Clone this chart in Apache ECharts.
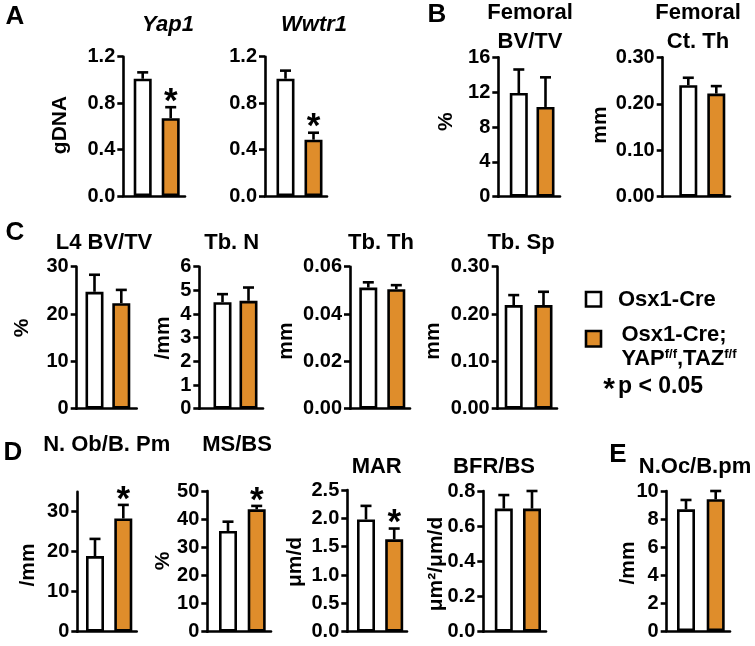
<!DOCTYPE html>
<html>
<head>
<meta charset="utf-8">
<script src="https://cdn.jsdelivr.net/npm/echarts@6/dist/echarts.min.js"></script>
<style>html,body{margin:0;padding:0;background:#fff;}#c{width:755px;height:646px;}</style>
</head>
<body>
<div id="c"></div>
<script>
// ---------------- DATA ----------------
const groupNames = ['Osx1-Cre', 'Osx1-Cre; YAPf/f,TAZf/f'];
const groupColors = ['#ffffff', '#DF8D2B'];

const panelTitles = ['Yap1', 'Wwtr1', 'Femoral\nBV/TV', 'Femoral\nCt. Th',
  'L4 BV/TV', 'Tb. N', 'Tb. Th', 'Tb. Sp',
  'N. Ob/B. Pm', 'MS/BS', 'MAR', 'BFR/BS', 'N.Oc/B.pm'];
const unitLabels = ['gDNA', '', '%', 'mm', '%', '/mm', 'mm', 'mm', '/mm', '%', 'μm/d', 'μm²/μm/d', '/mm'];

// means [Osx1-Cre, Osx1-Cre;YAP/TAZ] and SEM
const yap1Mean = [1.01, 0.67],    yap1Sem = [0.055, 0.095];
const wwtr1Mean = [1.01, 0.485],  wwtr1Sem = [0.07, 0.06];
const femBvtvMean = [11.9, 10.3], femBvtvSem = [2.7, 3.4];
const femCtThMean = [0.240, 0.222], femCtThSem = [0.016, 0.016];
const l4BvtvMean = [24.7, 22.3], l4BvtvSem = [3.6, 2.8];
const tbNMean = [4.50, 4.56],    tbNSem = [0.34, 0.56];
const tbThMean = [0.0512, 0.0505], tbThSem = [0.0022, 0.0017];
const tbSpMean = [0.219, 0.219], tbSpSem = [0.021, 0.028];
const nObMean = [18.9, 28.3],    nObSem = [4.3, 3.4];
const msbsMean = [35.8, 43.5],   msbsSem = [3.3, 1.2];
const marMean = [1.98, 1.63],    marSem = [0.24, 0.19];
const bfrMean = [0.70, 0.70],    bfrSem = [0.077, 0.10];
const nOcMean = [8.69, 9.41],    nOcSem = [0.67, 0.59];

const means = [yap1Mean, wwtr1Mean, femBvtvMean, femCtThMean, l4BvtvMean, tbNMean, tbThMean, tbSpMean, nObMean, msbsMean, marMean, bfrMean, nOcMean];
const sems  = [yap1Sem, wwtr1Sem, femBvtvSem, femCtThSem, l4BvtvSem, tbNSem, tbThSem, tbSpSem, nObSem, msbsSem, marSem, bfrSem, nOcSem];
// significance (p < 0.05) per group
const sigFlags = [[0,1],[0,1],[0,0],[0,0],[0,0],[0,0],[0,0],[0,0],[0,1],[0,1],[0,1],[0,0],[0,0]];

// y-axis: [max, interval, decimals]
const yAxisMax = [1.2, 1.2, 16, 0.30, 30, 6, 0.06, 0.30, 35, 50, 2.5, 0.8, 10];
const yAxisStep = [0.4, 0.4, 4, 0.10, 10, 1, 0.02, 0.10, 10, 10, 0.5, 0.2, 2];
const yAxisDecimals = [1, 1, 0, 2, 0, 0, 2, 2, 0, 0, 1, 1, 0];
const nObTicks = [0, 10, 20, 30];

// ---------------- LAYOUT (pixels) ----------------
// [axisX, centre of bar 1, centre of bar 2, x-axis end, top of y-axis, bottom]
const layout = [
  [123.3, 142.7, 170.7, 185, 56.7, 196],
  [265, 285.5, 313.5, 327, 56.7, 196],
  [498.3, 518.8, 545.5, 560, 57.3, 196.7],
  [662.7, 688.3, 716.3, 730, 57.3, 196.7],
  [76.7, 94.5, 121.3, 136.7, 266.7, 408.7],
  [199.3, 222.5, 248.5, 263, 266.7, 408.7],
  [350, 368.3, 396.3, 410, 266.7, 408.7],
  [497.7, 513.7, 543.5, 557, 266.7, 408.7],
  [77.3, 95, 123.3, 136.7, 491.7, 631.7],
  [207.3, 228, 256.7, 271, 491, 631.7],
  [347.3, 366, 394.2, 407, 490, 631.7],
  [483.3, 503.8, 532, 546, 491, 631.7],
  [666.7, 686, 715.7, 730, 491, 631]
];
const titlePos = [[168,25],[314,25],[530,27.5],[698,27.5],[104,243.3],[231.7,243.3],[381,243.3],[521,243.3],[106.7,445],[237,445],[376.7,466.7],[494,466.7],[695,466.7]];
const unitPos = [[60,125],null,[446.7,121.7],[600,125],[22,328],[163,338],[286.7,341],[433,341],[28.3,565],[163.3,561],[295,562],[436.7,564],[628.3,563]];
const letters = [['A',15,16.7],['B',437,15],['C',15,232.5],['D',13,453],['E',618,455]];

const FONT = "'Liberation Sans', Arial, Helvetica, sans-serif";
const chart = echarts.init(document.getElementById('c'), null, {renderer: 'canvas'});

const grid = [], xAxis = [], yAxis = [], series = [], graphic = [];
const LW = 2.6;

layout.forEach((L, i) => {
  const [ax, c1, c2, ae, top, bot] = L;
  const unit = c2 - c1;
  const xmin = 1 - (c1 - ax) / unit;
  const xmax = 2 + (ae - c2) / unit;
  grid.push({left: ax, top: top, width: ae - ax, height: bot - top, containLabel: false, outerBoundsMode: 'none'});
  xAxis.push({
    type: 'value', gridIndex: i, min: xmin, max: xmax,
    axisLine: {show: true, onZero: false, lineStyle: {color: '#000', width: LW}},
    axisTick: {show: false}, axisLabel: {show: false}, splitLine: {show: false}
  });
  const dec = yAxisDecimals[i];
  const y = {
    type: 'value', gridIndex: i, min: 0, max: yAxisMax[i], interval: yAxisStep[i],
    axisLine: {show: true, lineStyle: {color: '#000', width: LW}},
    axisTick: {show: true, length: 6, lineStyle: {color: '#000', width: LW}},
    axisLabel: {show: true, margin: 8, color: '#000', fontWeight: 'bold', fontSize: 20, fontFamily: FONT,
      formatter: v => Number(v).toFixed(dec)},
    splitLine: {show: false}
  };
  if (i === 8) {
    y.axisTick.customValues = nObTicks;
    y.axisLabel.customValues = nObTicks;
  }
  yAxis.push(y);

  series.push({
    type: 'bar', name: panelTitles[i].replace('\n', ' '), xAxisIndex: i, yAxisIndex: i, barWidth: 18,
    data: means[i].map((m, g) => ({value: [g + 1, m], name: groupNames[g],
      itemStyle: {color: groupColors[g], borderColor: '#000', borderWidth: LW}})),
    silent: true, animation: false
  });
  series.push({
    type: 'custom', xAxisIndex: i, yAxisIndex: i, animation: false, silent: true, z: 5,
    data: means[i].map((m, g) => [g + 1, m, sems[i][g]]),
    renderItem: (params, api) => {
      const x = api.value(0), m = api.value(1), s = api.value(2);
      const b = api.coord([x, m]);
      const t = api.coord([x, m + s]);
      return {type: 'group', children: [
        {type: 'line', shape: {x1: b[0], y1: b[1], x2: t[0], y2: t[1]}, style: {stroke: '#000', lineWidth: LW}},
        {type: 'line', shape: {x1: t[0] - 5.5, y1: t[1], x2: t[0] + 5.5, y2: t[1]}, style: {stroke: '#000', lineWidth: LW}}
      ]};
    }
  });
  const starData = [];
  sigFlags[i].forEach((f, g) => { if (f) starData.push([g + 1, means[i][g] + sems[i][g]]); });
  if (starData.length) {
    series.push({
      type: 'custom', xAxisIndex: i, yAxisIndex: i, animation: false, silent: true, z: 6,
      data: starData,
      renderItem: (params, api) => {
        const p = api.coord([api.value(0), api.value(1)]);
        return {type: 'text', x: p[0], y: p[1] - 5,
          style: {text: '*', font: 'bold 35px ' + FONT, fill: '#000', align: 'center', verticalAlign: 'middle', textAlign: 'center', textVerticalAlign: 'middle'}};
      }
    });
  }

  // titles
  const tp = titlePos[i];
  const italic = (i < 2) ? 'italic ' : '';
  graphic.push({type: 'text', x: tp[0], y: tp[1], silent: true,
    style: {text: panelTitles[i], font: italic + 'bold 22px ' + FONT, fill: '#000', lineHeight: 28.7,
      align: 'center', verticalAlign: 'middle', textAlign: 'center', textVerticalAlign: 'middle'}});
  // unit labels
  if (unitPos[i]) {
    graphic.push({type: 'text', x: unitPos[i][0], y: unitPos[i][1], rotation: Math.PI / 2, silent: true,
      style: {text: unitLabels[i], font: 'bold 21px ' + FONT, fill: '#000',
        align: 'center', verticalAlign: 'middle', textAlign: 'center', textVerticalAlign: 'middle'}});
  }
});

letters.forEach(l => {
  graphic.push({type: 'text', x: l[1], y: l[2], silent: true,
    style: {text: l[0], font: 'bold 26px ' + FONT, fill: '#000', align: 'center', verticalAlign: 'middle', textAlign: 'center', textVerticalAlign: 'middle'}});
});

// legend
graphic.push({type: 'rect', shape: {x: 586, y: 292, width: 15, height: 14.5}, style: {fill: groupColors[0], stroke: '#000', lineWidth: LW}});
graphic.push({type: 'text', x: 618, y: 300, style: {text: groupNames[0], font: 'bold 22px ' + FONT, fill: '#000', verticalAlign: 'middle', textVerticalAlign: 'middle'}});
graphic.push({type: 'rect', shape: {x: 586, y: 331, width: 15, height: 15.5}, style: {fill: groupColors[1], stroke: '#000', lineWidth: LW}});
graphic.push({type: 'text', x: 621.5, y: 335, style: {text: 'Osx1-Cre;', font: 'bold 22px ' + FONT, fill: '#000', verticalAlign: 'middle', textVerticalAlign: 'middle'}});
graphic.push({type: 'text', x: 621.5, y: 358.5, style: {
  text: '{a|YAP}{s|f/f}{a|,TAZ}{s|f/f}', fill: '#000', verticalAlign: 'middle', textVerticalAlign: 'middle',
  rich: {a: {font: 'bold 22px ' + FONT, fill: '#000', verticalAlign: 'bottom'}, s: {font: 'bold 13px ' + FONT, fill: '#000', verticalAlign: 'top'}}}});
graphic.push({type: 'text', x: 609, y: 390, style: {text: '*', font: 'bold 30px ' + FONT, fill: '#000', align: 'center', textAlign: 'center', verticalAlign: 'middle', textVerticalAlign: 'middle'}});
graphic.push({type: 'text', x: 618, y: 387, style: {text: 'p < 0.05', font: 'bold 23px ' + FONT, fill: '#000', verticalAlign: 'middle', textVerticalAlign: 'middle'}});

chart.setOption({
  animation: false,
  backgroundColor: '#fff',
  grid, xAxis, yAxis, series, graphic
});
</script>
</body>
</html>
